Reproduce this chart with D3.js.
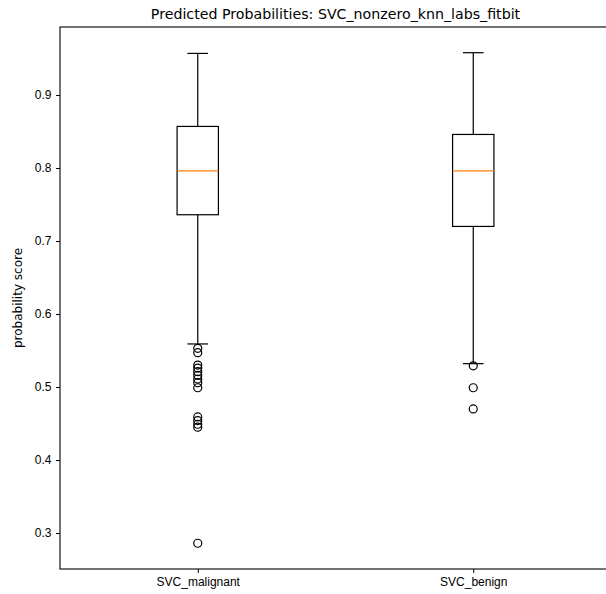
<!DOCTYPE html>
<html>
<head>
<meta charset="utf-8">
<script src="https://cdn.jsdelivr.net/npm/d3@7"></script>
<style>
  body { margin: 0; background: #fff; }
  svg { font-family: "DejaVu Sans", sans-serif; }
</style>
</head>
<body>
<div id="svg-container"></div>
<script>
// data
const categories = ["SVC_malignant", "SVC_benign"];
const whiskerLow = [0.559, 0.532];
const q1 = [0.736, 0.72];
const median = [0.796, 0.796];
const q3 = [0.857, 0.846];
const whiskerHigh = [0.957, 0.958];
const outliers = [
  [0.553, 0.547, 0.530, 0.526, 0.521, 0.516, 0.511, 0.506, 0.499, 0.459, 0.454, 0.449, 0.445, 0.286],
  [0.529, 0.499, 0.470]
];
const yTicks = [0.3, 0.4, 0.5, 0.6, 0.7, 0.8, 0.9];

const width = 606, height = 594;
const margin = { top: 27, right: -5, bottom: 25, left: 60 };

const svg = d3.select("#svg-container").append("svg")
  .attr("width", width).attr("height", height);

const xScale = d3.scaleLinear().domain([0.5, 2.5]).range([margin.left, width - margin.right]);
const yScale = d3.scaleLinear().domain([0.2507, 0.9932]).range([height - margin.bottom, margin.top]);

const boxW = xScale(1.075) - xScale(0.925);
const capW = boxW / 2;

// axes
const yAxis = d3.axisLeft(yScale).tickValues(yTicks).tickFormat(d3.format(".1f")).tickSizeOuter(0).tickSize(4).tickPadding(4.5);
const gy = svg.append("g").attr("transform", `translate(${margin.left},0)`).call(yAxis);
gy.select(".domain").remove();
gy.selectAll("text").style("font-size", "12px").attr("fill", "#000");
gy.selectAll("line").attr("stroke", "#000");

const xAxis = d3.axisBottom(xScale).tickValues([1, 2]).tickFormat((d) => categories[d - 1]).tickSizeOuter(0).tickSize(4).tickPadding(4);
const gx = svg.append("g").attr("transform", `translate(0,${height - margin.bottom})`).call(xAxis);
gx.select(".domain").remove();
gx.selectAll("text").style("font-size", "12px").attr("fill", "#000");
gx.selectAll("line").attr("stroke", "#000");

// frame
svg.append("rect")
  .attr("x", margin.left).attr("y", margin.top)
  .attr("width", width - margin.right - margin.left)
  .attr("height", height - margin.bottom - margin.top)
  .attr("fill", "none").attr("stroke", "#000").attr("stroke-width", 1.1);

// boxes
const boxes = svg.selectAll(".box").data(categories).enter().append("g").attr("class", "box");

boxes.append("line")
  .attr("x1", (d, i) => xScale(i + 1)).attr("x2", (d, i) => xScale(i + 1))
  .attr("y1", (d, i) => yScale(whiskerHigh[i])).attr("y2", (d, i) => yScale(q3[i]))
  .attr("stroke", "#000").attr("stroke-width", 1.2);
boxes.append("line")
  .attr("x1", (d, i) => xScale(i + 1)).attr("x2", (d, i) => xScale(i + 1))
  .attr("y1", (d, i) => yScale(q1[i])).attr("y2", (d, i) => yScale(whiskerLow[i]))
  .attr("stroke", "#000").attr("stroke-width", 1.2);
boxes.append("line")
  .attr("x1", (d, i) => xScale(i + 1) - capW / 2).attr("x2", (d, i) => xScale(i + 1) + capW / 2)
  .attr("y1", (d, i) => yScale(whiskerHigh[i])).attr("y2", (d, i) => yScale(whiskerHigh[i]))
  .attr("stroke", "#000").attr("stroke-width", 1.2);
boxes.append("line")
  .attr("x1", (d, i) => xScale(i + 1) - capW / 2).attr("x2", (d, i) => xScale(i + 1) + capW / 2)
  .attr("y1", (d, i) => yScale(whiskerLow[i])).attr("y2", (d, i) => yScale(whiskerLow[i]))
  .attr("stroke", "#000").attr("stroke-width", 1.2);
boxes.append("rect")
  .attr("x", (d, i) => xScale(i + 1) - boxW / 2)
  .attr("y", (d, i) => yScale(q3[i]))
  .attr("width", boxW)
  .attr("height", (d, i) => yScale(q1[i]) - yScale(q3[i]))
  .attr("fill", "none").attr("stroke", "#000").attr("stroke-width", 1.2);
boxes.append("line")
  .attr("x1", (d, i) => xScale(i + 1) - boxW / 2).attr("x2", (d, i) => xScale(i + 1) + boxW / 2)
  .attr("y1", (d, i) => yScale(median[i])).attr("y2", (d, i) => yScale(median[i]))
  .attr("stroke", "#ff7f0e").attr("stroke-width", 1.2);

// outliers
boxes.each(function (d, i) {
  d3.select(this).selectAll("circle").data(outliers[i]).enter().append("circle")
    .attr("cx", xScale(i + 1))
    .attr("cy", (v) => yScale(v))
    .attr("r", 4)
    .attr("fill", "none").attr("stroke", "#000").attr("stroke-width", 1.2);
});

// labels
svg.append("text")
  .attr("x", (margin.left + xScale(2.5)) / 2).attr("y", 19)
  .attr("text-anchor", "middle").style("font-size", "14.2px")
  .text("Predicted Probabilities: SVC_nonzero_knn_labs_fitbit");

svg.append("text")
  .attr("transform", `translate(22,${(margin.top + height - margin.bottom) / 2}) rotate(-90)`)
  .attr("text-anchor", "middle").style("font-size", "12px")
  .text("probability score");
</script>
</body>
</html>
